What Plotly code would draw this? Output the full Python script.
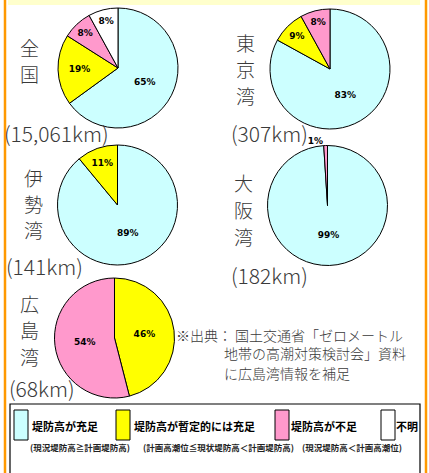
import plotly.graph_objects as go

W, H = 429, 473

# ---- data ----
categories = ["堤防高が充足", "堤防高が暫定的には充足", "堤防高が不足", "不明"]
sub_labels = ["(現況堤防高≧計画堤防高)", "(計画高潮位≦現状堤防高＜計画堤防高)", "(現況堤防高＜計画高潮位)", ""]
colors = ["#CCFFFF", "#FFFF00", "#FF99CC", "#FFFFFF"]

regions = ["全国", "東京湾", "伊勢湾", "大阪湾", "広島湾"]
lengths = ["(15,061km)", "(307km)", "(141km)", "(182km)", "(68km)"]
zenkoku = [65, 19, 8, 8]
tokyo = [83, 9, 8, 0]
ise = [89, 11, 0, 0]
osaka = [99, 0, 1, 0]
hiroshima = [0, 46, 54, 0]
values = [zenkoku, tokyo, ise, osaka, hiroshima]

note_lines = ["※出典： 国土交通省「ゼロメートル", "地帯の高潮対策検討会」資料", "に広島湾情報を補足"]

# ---- layout helpers (pixel -> paper) ----
def fx(x):
    return x / W

def fy(y):
    return 1 - y / H

# pie centers / radius (pixels)
centers = [(118, 68), (330, 69), (117.5, 205), (327.5, 205.5), (114.5, 338)]
R = 60
title_pos = [(29, 47), (245, 42), (33, 177), (243, 183), (29, 303)]
len_pos = [(2, 133), (229, 133), (4, 266), (229, 275), (7, 388)]

fig = go.Figure()
for i, vals in enumerate(values):
    labs, vs, cs, tpos = [], [], [], []
    for c, v, col in zip(categories, vals, colors):
        if v > 0:
            labs.append(c)
            vs.append(v)
            cs.append(col)
            tpos.append("outside" if v < 3 else "inside")
    cx, cy = centers[i]
    fig.add_trace(go.Pie(
        labels=labs, values=vs, sort=False, direction="clockwise", rotation=0,
        marker=dict(colors=cs, line=dict(color="#000000", width=1)),
        texttemplate="%{value}%", textposition=tpos,
        insidetextorientation="horizontal",
        textfont=dict(family="DejaVu Sans", size=9, color="#000000", weight="bold"),
        outsidetextfont=dict(family="DejaVu Sans", size=9, color="#000000", weight="bold"),
        showlegend=False, hoverinfo="label+value",
        domain=dict(x=[fx(cx - R), fx(cx + R)], y=[fy(cy + R), fy(cy - R)]),
    ))

ann = []
shapes = []
light = dict(family="Noto Sans CJK JP", color="#3a3a3a", weight=300)
for i, name in enumerate(regions):
    tx, ty = title_pos[i]
    for k, ch in enumerate(name):
        ann.append(dict(x=fx(tx), y=fy(ty + 26.5 * k), xref="paper", yref="paper", showarrow=False,
                        text=ch, xanchor="center", yanchor="middle", borderpad=0,
                        font=dict(size=19, **light)))
    lx, ly = len_pos[i]
    ann.append(dict(x=fx(lx), y=fy(ly), xref="paper", yref="paper", showarrow=False,
                    text=lengths[i], xanchor="left", yanchor="middle",
                    font=dict(size=21, **light)))

note_xy = [(175, 334.5), (223, 353.3), (223, 373)]
for t, (nx, ny) in zip(note_lines, note_xy):
    ann.append(dict(x=fx(nx), y=fy(ny), xref="paper", yref="paper", showarrow=False,
                    text=t, xanchor="left", yanchor="middle", borderpad=0,
                    font=dict(size=14, **light)))

# frame decorations
shapes.append(dict(type="rect", xref="paper", yref="paper", x0=fx(8), x1=fx(420), y0=fy(5), y1=fy(0),
                   fillcolor="#FFFFCC", line=dict(width=0)))
shapes.append(dict(type="line", xref="paper", yref="paper", x0=fx(5), x1=fx(5), y0=0, y1=1,
                   line=dict(color="#FF9900", width=2.5)))
shapes.append(dict(type="line", xref="paper", yref="paper", x0=fx(426), x1=fx(426), y0=0, y1=1,
                   line=dict(color="#FF9900", width=2.5)))
# legend box
shapes.append(dict(type="rect", xref="paper", yref="paper", x0=fx(10), x1=fx(420), y0=fy(480), y1=fy(404),
                   fillcolor="rgba(0,0,0,0)", line=dict(color="#000000", width=1.2)))

sw_x = [14, 116, 275, 381]
lab_x = [30, 132, 289, 394]
sub_cx = [80, 218, 352, None]
for i in range(4):
    shapes.append(dict(type="rect", xref="paper", yref="paper", x0=fx(sw_x[i]), x1=fx(sw_x[i] + 14),
                       y0=fy(440), y1=fy(410), fillcolor=colors[i], line=dict(color="#000000", width=1)))
    ann.append(dict(x=fx(lab_x[i]), y=fy(426), xref="paper", yref="paper", showarrow=False,
                    text=categories[i], xanchor="left", yanchor="middle",
                    font=dict(family="Noto Sans CJK JP", size=11, color="#000000", weight="bold")))
    if sub_labels[i]:
        ann.append(dict(x=fx(sub_cx[i]), y=fy(447), xref="paper", yref="paper", showarrow=False,
                        text=sub_labels[i], xanchor="center", yanchor="middle",
                        font=dict(family="Noto Sans CJK JP", size=8.5, color="#222222", weight="bold")))

fig.update_layout(width=W, height=H, margin=dict(l=0, r=0, t=0, b=0),
                  paper_bgcolor="#FFFFFF", plot_bgcolor="#FFFFFF",
                  annotations=ann, shapes=shapes)

fig.write_html("out.html", config={"displayModeBar": False},
               post_script="document.body.style.margin='0';document.body.style.overflow='hidden';")
